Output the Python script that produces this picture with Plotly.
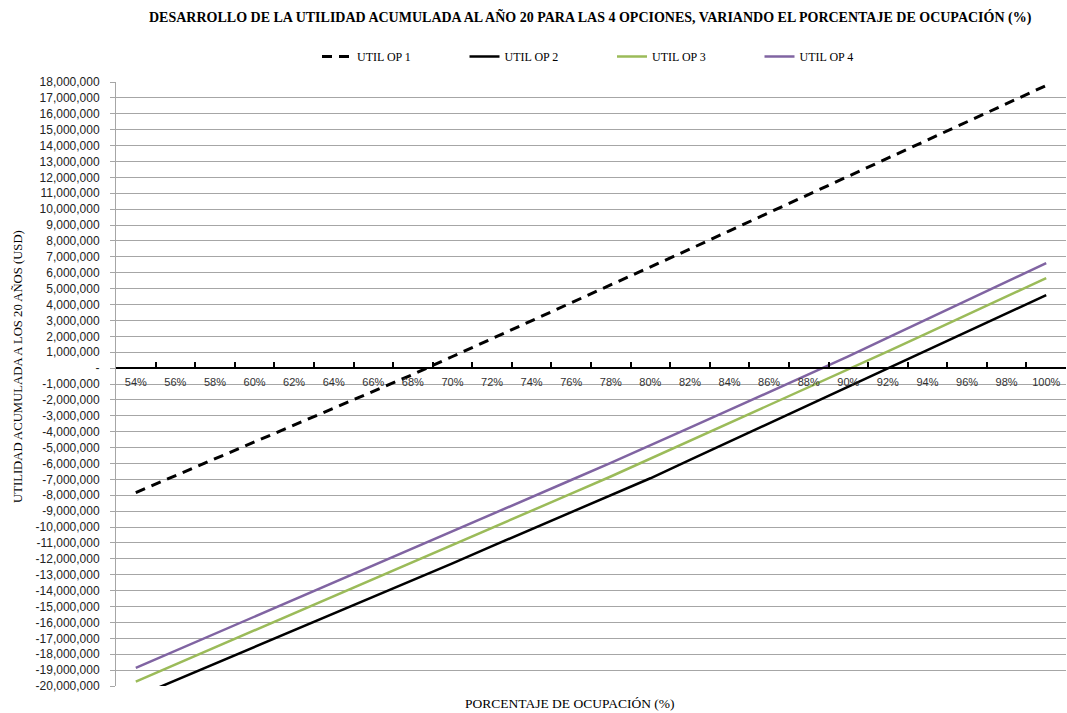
import plotly.graph_objects as go

# Occupancy levels (categories on the horizontal axis)
ocupacion = ["54%", "56%", "58%", "60%", "62%", "64%", "66%", "68%", "70%", "72%",
             "74%", "76%", "78%", "80%", "82%", "84%", "86%", "88%", "90%", "92%",
             "94%", "96%", "98%", "100%"]

# Accumulated profit at year 20 (USD) for each option
util_op1 = [-7830000, -6770000, -5710000, -4650000, -3590000, -2520000, -1460000, -400000,
            730000, 1850000, 2980000, 4100000, 5230000, 6350000, 7490000, 8640000,
            9780000, 10920000, 12060000, 13210000, 14350000, 15490000, 16640000, 17780000]
util_op2 = [-20700000, -19650000, -18600000, -17550000, -16500000, -15450000, -14400000, -13350000,
            -12280000, -11200000, -10130000, -9060000, -8000000, -6930000, -5780000, -4630000,
            -3480000, -2340000, -1200000, -60000, 1110000, 2270000, 3430000, 4590000]
util_op3 = [-19720000, -18650000, -17570000, -16500000, -15420000, -14350000, -13270000, -12200000,
            -11120000, -10050000, -8970000, -7900000, -6820000, -5700000, -4580000, -3460000,
            -2340000, -1220000, -100000, 1050000, 2200000, 3360000, 4510000, 5660000]
util_op4 = [-18860000, -17790000, -16710000, -15640000, -14560000, -13490000, -12410000, -11340000,
            -10260000, -9190000, -8110000, -7040000, -5960000, -4870000, -3750000, -2630000,
            -1510000, -400000, 740000, 1920000, 3090000, 4260000, 5440000, 6610000]

# Value axis ticks: every million from -20M to 18M, zero shown as a dash
y_ticks = list(range(-20000000, 18000001, 1000000))
y_labels = ["-" if v == 0 else f"{v:,}" for v in y_ticks]

SERIF = "Liberation Serif"
SANS = "Liberation Sans"

W, H = 1067, 713
ML, MR, MT, MB = 116, 1, 82, 27
PW, PH = W - ML - MR, H - MT - MB


def px_x(px):
    """Pixel column -> paper x fraction."""
    return (px - ML) / PW


def px_y(py):
    """Pixel row -> paper y fraction."""
    return (H - MB - py) / PH


fig = go.Figure()
fig.add_trace(go.Scatter(x=ocupacion, y=util_op1, name="UTIL OP 1", mode="lines",
                         line=dict(color="#000000", width=3, dash="10px,7px")))
fig.add_trace(go.Scatter(x=ocupacion, y=util_op2, name="UTIL OP 2", mode="lines",
                         line=dict(color="#000000", width=2.5)))
fig.add_trace(go.Scatter(x=ocupacion, y=util_op3, name="UTIL OP 3", mode="lines",
                         line=dict(color="#9BBB59", width=2.5)))
fig.add_trace(go.Scatter(x=ocupacion, y=util_op4, name="UTIL OP 4", mode="lines",
                         line=dict(color="#8064A2", width=2.5)))

fig.update_layout(
    width=W, height=H,
    margin=dict(l=ML, r=MR, t=MT, b=MB),
    paper_bgcolor="white", plot_bgcolor="white",
    showlegend=True,
    legend=dict(orientation="h", xref="container", yref="container",
                x=317 / W, y=1 - 42 / H, xanchor="left", yanchor="top",
                font=dict(family=SERIF, size=12, color="#000000"),
                entrywidth=102.5, entrywidthmode="pixels",
                bgcolor="rgba(0,0,0,0)"),
    xaxis=dict(type="category", anchor="free", position=20 / 38,
               showgrid=False, showline=True, linecolor="#000000", linewidth=2,
               ticks="inside", ticklen=5, tickwidth=1.5, tickcolor="#000000",
               tickson="boundaries", ticklabelstandoff=4,
               tickfont=dict(family=SANS, size=11, color="#333333"),
               range=[-0.5, len(ocupacion) - 0.5], zeroline=False),
    yaxis=dict(range=[-20000000, 18000000], tickvals=y_ticks, ticktext=y_labels,
               showgrid=True, gridcolor="#a6a6a6", gridwidth=1,
               showline=True, linecolor="#a6a6a6", linewidth=1,
               ticks="outside", ticklen=5, tickcolor="#a6a6a6",
               ticklabelstandoff=8, zeroline=False,
               tickfont=dict(family=SANS, size=12, color="#222222")),
    annotations=[
        dict(text="<b>DESARROLLO DE LA UTILIDAD ACUMULADA AL AÑO 20 PARA LAS 4 OPCIONES, "
                  "VARIANDO EL PORCENTAJE DE OCUPACIÓN (%)</b>",
             xref="paper", yref="paper", x=px_x(590), y=px_y(17),
             xanchor="center", yanchor="middle", showarrow=False,
             font=dict(family=SERIF, size=14, color="#000000")),
        dict(text="PORCENTAJE DE OCUPACIÓN (%)",
             xref="paper", yref="paper", x=px_x(570), y=px_y(703),
             xanchor="center", yanchor="middle", showarrow=False,
             font=dict(family=SERIF, size=13.5, color="#000000")),
        dict(text="UTILIDAD ACUMULADA A LOS 20 AÑOS (USD)", textangle=-90,
             xref="paper", yref="paper", x=px_x(18), y=px_y(367),
             xanchor="center", yanchor="middle", showarrow=False,
             font=dict(family=SERIF, size=12.7, color="#000000")),
    ],
)

fig.write_html("out.html")
